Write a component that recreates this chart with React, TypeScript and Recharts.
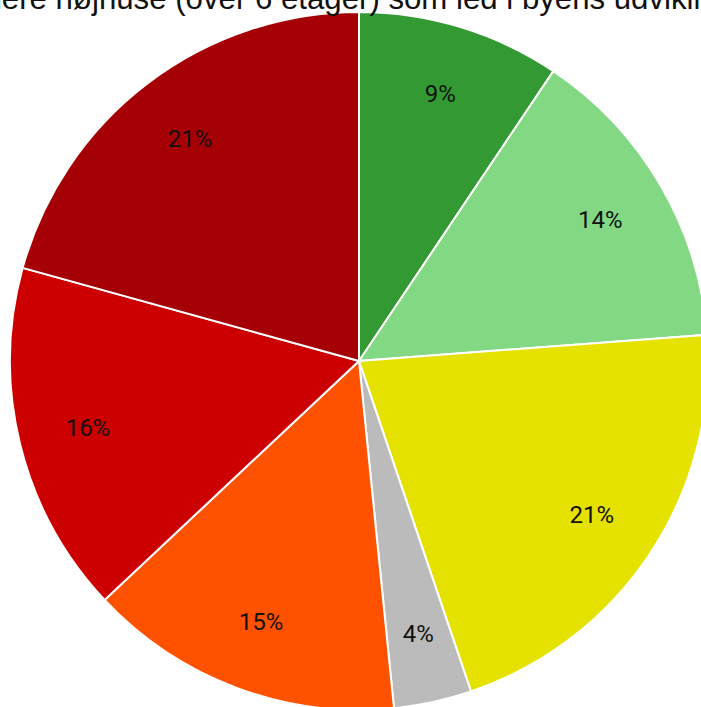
import { Cell, Pie, PieChart } from "recharts";

const answers = [
  "Meget positiv",
  "Positiv",
  "Neutral",
  "Ved ikke",
  "Negativ",
  "Meget negativ",
  "Imod",
];
const shares = [9.4, 14.4, 21.0, 3.6, 14.6, 16.3, 20.7];
const colors = [
  "#339933",
  "#83d883",
  "#e6e200",
  "#bbbbbb",
  "#ff5200",
  "#cc0000",
  "#a50005",
];

const title =
  "Hvad synes du om at bygge flere højhuse (over 6 etager) som led i byens udvikling?";

const data = answers.map((name, i) => ({ name, value: shares[i] }));

const RADIAN = Math.PI / 180;

function renderLabel(props: any) {
  const { cx, cy, midAngle, outerRadius, percent } = props;
  const r = outerRadius * 0.8;
  const x = cx + r * Math.cos(-midAngle * RADIAN);
  const y = cy + r * Math.sin(-midAngle * RADIAN);
  return (
    <text
      x={x}
      y={y}
      fill="#111"
      textAnchor="middle"
      dominantBaseline="central"
      fontFamily="Roboto"
      fontSize={24}
    >
      {`${Math.round(percent * 100)}%`}
    </text>
  );
}

export default function App() {
  return (
    <div
      style={{
        position: "absolute",
        left: 0,
        top: 0,
        width: 701,
        height: 707,
        overflow: "hidden",
        background: "#fff",
      }}
    >
      <PieChart width={701} height={707} margin={{ top: 0, right: 0, bottom: 0, left: 0 }}>
        <Pie
          data={data}
          dataKey="value"
          nameKey="name"
          cx={359}
          cy={361}
          outerRadius={349}
          startAngle={90}
          endAngle={-270}
          stroke="#fff"
          strokeWidth={2}
          label={renderLabel}
          labelLine={false}
          isAnimationActive={false}
        >
          {data.map((d, i) => (
            <Cell key={d.name} fill={colors[i]} />
          ))}
        </Pie>
      </PieChart>
      <div
        style={{
          position: "absolute",
          left: -409,
          top: -17,
          whiteSpace: "nowrap",
          fontFamily: "'Liberation Sans', Arial, sans-serif",
          fontSize: 31.2,
          lineHeight: 1,
          color: "#111",
        }}
      >
        {title}
      </div>
    </div>
  );
}
